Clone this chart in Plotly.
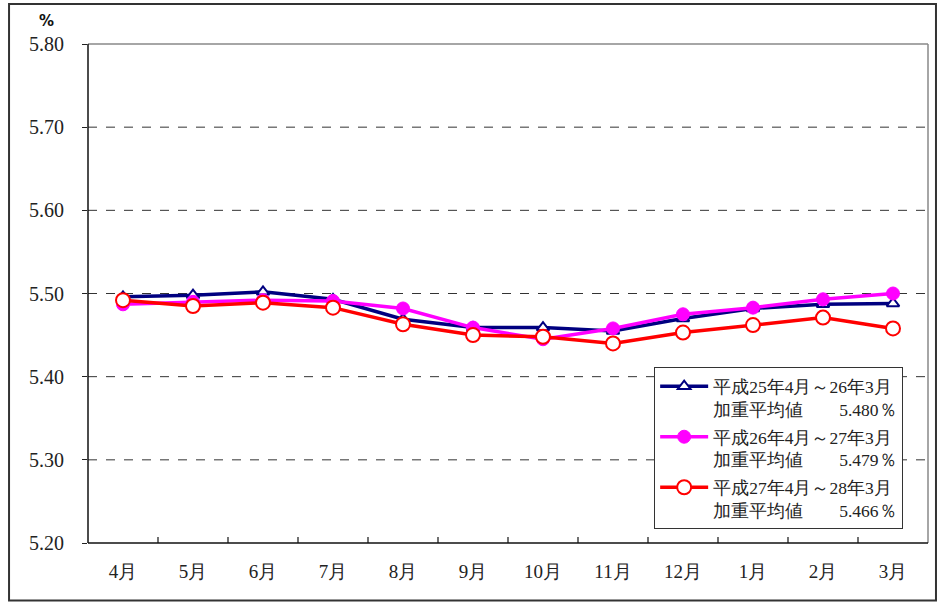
import plotly.graph_objects as go

months = ["4月", "5月", "6月", "7月", "8月", "9月", "10月", "11月", "12月", "1月", "2月", "3月"]
h25 = [5.496, 5.498, 5.502, 5.493, 5.469, 5.459, 5.459, 5.455, 5.470, 5.482, 5.487, 5.488]
h26 = [5.487, 5.490, 5.492, 5.491, 5.482, 5.459, 5.445, 5.458, 5.475, 5.483, 5.493, 5.500]
h27 = [5.492, 5.485, 5.489, 5.483, 5.463, 5.450, 5.448, 5.440, 5.453, 5.462, 5.471, 5.458]
names = [
    "平成25年4月～26年3月<br>加重平均値　　5.480％",
    "平成26年4月～27年3月<br>加重平均値　　5.479％",
    "平成27年4月～28年3月<br>加重平均値　　5.466％",
]
yticks = [5.20, 5.30, 5.40, 5.50, 5.60, 5.70, 5.80]

FONT = "Liberation Serif"

fig = go.Figure()
fig.add_trace(go.Scatter(
    x=months, y=h25, name=names[0], mode="lines+markers", legendgroup="a",
    line=dict(color="#000080", width=3.5),
    marker=dict(symbol="triangle-up", size=11, color="white",
                line=dict(color="#000080", width=2)),
))
fig.add_trace(go.Scatter(
    x=months, y=h26, name=names[1], mode="lines+markers", legendgroup="b",
    line=dict(color="#FF00FF", width=3.5),
    marker=dict(symbol="circle", size=13, color="#FF00FF",
                line=dict(color="#FF00FF", width=1)),
))
fig.add_trace(go.Scatter(
    x=months, y=h27, name=names[2], mode="lines+markers", legendgroup="c",
    line=dict(color="#FF0000", width=3.5),
    marker=dict(symbol="circle", size=14, color="white",
                line=dict(color="#FF0000", width=2)),
))

fig.update_layout(
    width=937, height=603,
    margin=dict(l=88, r=9, t=44, b=60, autoexpand=False),
    paper_bgcolor="white", plot_bgcolor="white",
    font=dict(family=FONT, color="#222"),
    showlegend=True,
    legend=dict(
        x=0.674, y=0.352, xanchor="left", yanchor="top",
        bgcolor="white", bordercolor="#333", borderwidth=1,
        font=dict(size=17.5, family=FONT, color="#222"),
        traceorder="grouped", tracegroupgap=2, valign="top",
        itemwidth=48,
    ),
    xaxis=dict(
        type="category", range=[-0.5, 11.5], automargin=False,
        showgrid=False, showline=False, zeroline=False,
        ticks="", tickfont=dict(size=19, family=FONT, color="#222"),
        ticklabelstandoff=15,
    ),
    yaxis=dict(
        range=[5.20, 5.80], tickvals=yticks, ticktext=[f"{v:.2f}" for v in yticks],
        automargin=False,
        showgrid=False, zeroline=False, showline=False,
        ticks="outside", ticklen=5, tickcolor="#222",
        tickfont=dict(size=20, family=FONT, color="#222"),
        ticklabelstandoff=14,
    ),
)

# dashed grid lines
for v in yticks[1:-1]:
    fig.add_shape(type="line", xref="paper", yref="y", x0=0, x1=1, y0=v, y1=v,
                  line=dict(color="#333", width=1, dash="dash"), layer="below")
# plot frame: top/right gray, left/bottom black
fig.add_shape(type="line", xref="paper", yref="paper", x0=0, x1=1, y0=1, y1=1,
              line=dict(color="#888", width=1.5))
fig.add_shape(type="line", xref="paper", yref="paper", x0=1, x1=1, y0=0, y1=1,
              line=dict(color="#888", width=1.5))
fig.add_shape(type="line", xref="paper", yref="paper", x0=0, x1=0, y0=0, y1=1,
              line=dict(color="#111", width=1.5))
fig.add_shape(type="line", xref="paper", yref="paper", x0=0, x1=1, y0=0, y1=0,
              line=dict(color="#111", width=1.5))
# inward category ticks at boundaries
for i in range(1, len(months)):
    fig.add_shape(type="line", xref="x", yref="paper", x0=i - 0.5, x1=i - 0.5,
                  y0=0, y1=0.012, line=dict(color="#111", width=1.2))
# outer frame
fig.add_shape(type="rect", xref="paper", yref="paper",
              x0=-0.094, x1=1.0095, y0=-0.115, y1=1.08,
              line=dict(color="#333", width=2))

fig.add_annotation(text="<b>%</b>", xref="paper", yref="paper", x=-0.050, y=1.046,
                   xanchor="center", yanchor="middle",
                   showarrow=False, font=dict(size=15, family="DejaVu Sans", color="#111"))

fig.write_html("out.html", config={"displayModeBar": False},
               post_script="document.body.style.margin='0';document.body.style.padding='0';")
